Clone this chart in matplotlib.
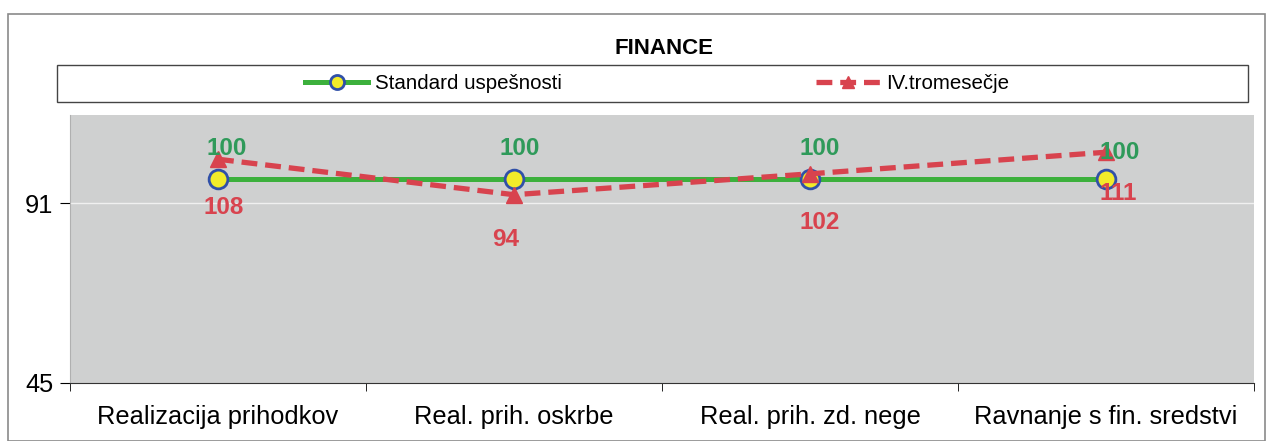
import matplotlib
matplotlib.use('Agg')
from matplotlib import pyplot as plt
from matplotlib.patches import Rectangle
from matplotlib.ticker import NullLocator

# data
categories = ['Realizacija prihodkov', 'Real. prih. oskrbe',
              'Real. prih. zd. nege', 'Ravnanje s fin. sredstvi']
standard = [100, 100, 100, 100]
quarter4 = [108, 94, 102, 111]

green = '#2f9a5a'
red = '#d8434e'

plt.rcParams['font.family'] = ['Liberation Sans', 'DejaVu Sans']

fig = plt.figure(figsize=(12.69, 4.41), dpi=100)

# outer chart border
fig.patches.append(Rectangle((8 / 1269, 0), 1257 / 1269, 427 / 441,
                             transform=fig.transFigure, fill=False,
                             edgecolor='#8a8a8a', linewidth=1.2))

ax = fig.add_axes([70 / 1269, 58 / 441, 1184 / 1269, 268 / 441])
ax.set_facecolor('#cfd0d0')

x = list(range(len(categories)))
ax.plot(x, standard, color='#3cb03c', linewidth=3.6, marker='o',
        markersize=13.5, markerfacecolor='#f2ec2a', markeredgecolor='#3050a8',
        markeredgewidth=2, label='Standard uspešnosti', zorder=3)
ax.plot(x, quarter4, color=red, linewidth=3.8, linestyle=(0, (3, 1.5)),
        marker='^', markersize=11, markerfacecolor=red, markeredgecolor=red,
        label='IV.tromesečje', zorder=4)

# data labels (offsets in points)
green_off = [(6, 22), (4, 22), (7, 22), (10, 19)]
red_off = [(4, -35), (-6, -32), (7, -35), (9, -30)]
for i in x:
    ax.annotate(str(standard[i]), (i, standard[i]), xytext=green_off[i],
                textcoords='offset points', ha='center', va='center',
                color=green, fontsize=17.5, fontweight='bold', zorder=5)
    ax.annotate(str(quarter4[i]), (i, quarter4[i]), xytext=red_off[i],
                textcoords='offset points', ha='center', va='center',
                color=red, fontsize=17.5, fontweight='bold', zorder=5)

ax.set_yscale('log')
ax.set_ylim(45, 128.4)
ax.set_yticks([45, 91])
ax.set_yticklabels(['45', '91'])
ax.yaxis.set_minor_locator(NullLocator())
ax.axhline(91, color='white', linewidth=1, alpha=0.7, zorder=1)

ax.set_xlim(-0.5, 3.5)
ax.set_xticks(x)
ax.set_xticklabels(categories)
ax.set_xticks([-0.5, 0.5, 1.5, 2.5, 3.5], minor=True)
ax.tick_params(axis='x', which='major', length=0, pad=16, labelsize=18.3)
ax.tick_params(axis='x', which='minor', length=6, direction='out')
ax.tick_params(axis='y', length=7, pad=5, labelsize=18.3)

for s in ['top', 'right']:
    ax.spines[s].set_visible(False)
ax.spines['left'].set_color('#b0b0b0')
ax.spines['bottom'].set_color('#333333')

fig.text(664 / 1269, 1 - 48 / 441, 'FINANCE', ha='center', va='center',
         fontsize=16, fontweight='bold')

# legend box
fig.patches.append(Rectangle((57 / 1269, 1 - 102 / 441), 1191 / 1269, 37 / 441,
                             transform=fig.transFigure, fill=False,
                             edgecolor='#444444', linewidth=1))
fig.legend(loc='center', bbox_to_anchor=(657 / 1269, 1 - 83.5 / 441), ncol=2,
           frameon=False, fontsize=14.8, handlelength=3.1, columnspacing=12.4,
           handletextpad=0.3, markerscale=0.75)

plt.savefig('out.png', dpi=100)
